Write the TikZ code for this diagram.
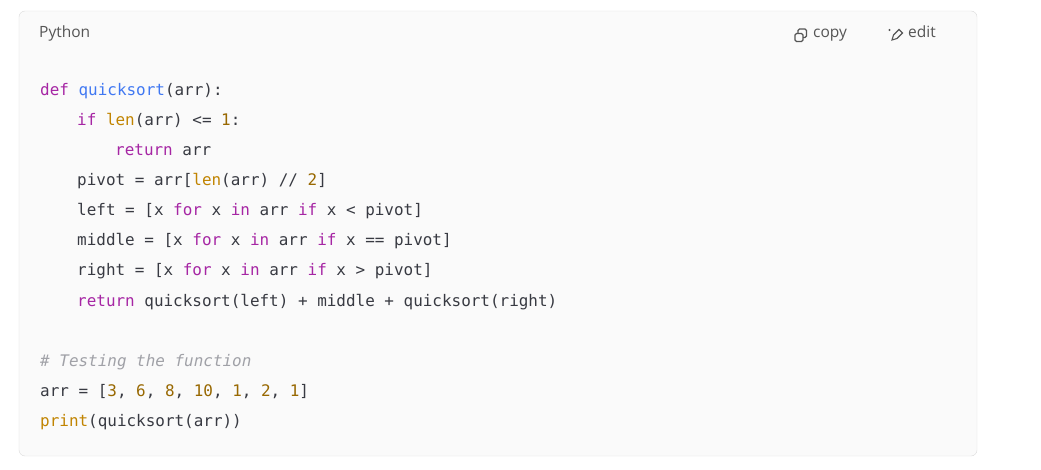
\documentclass[tikz,border=0pt]{standalone}
\usepackage{fontspec}
\setmainfont{Open Sans}
\newfontfamily\codefont{DejaVu Sans Mono}[Ligatures=NoCommon]
\definecolor{kwcol}{HTML}{A626A4}
\definecolor{fncol}{HTML}{4078F2}
\definecolor{bicol}{HTML}{C18401}
\definecolor{numcol}{HTML}{986801}
\definecolor{cmcol}{HTML}{A0A1A7}
\definecolor{txcol}{HTML}{383A42}
\definecolor{uicol}{HTML}{555555}
\newcommand{\kw}[1]{\textcolor{kwcol}{#1}}
\newcommand{\fn}[1]{\textcolor{fncol}{#1}}
\newcommand{\bi}[1]{\textcolor{bicol}{#1}}
\newcommand{\nm}[1]{\textcolor{numcol}{#1}}
\begin{document}
\begin{tikzpicture}[x=1pt, y=-1pt,
    codeline/.style={anchor=base west, inner sep=0pt, text=txcol, font=\codefont\fontsize{15.95}{18}\selectfont},
    uilabel/.style={anchor=base west, inner sep=0pt, text=uicol, font=\fontsize{15.5}{18}\selectfont},
    icon/.style={uicol, line width=1.1pt, rounded corners=1.5pt}
]
\useasboundingbox (0,0) rectangle (1041,470);

% Frame
\draw[draw=black!14, fill=black!2, rounded corners=6pt] (19,11) rectangle (977,456);

% Header
\node[uilabel] (lang) at (39,38) {Python};
\node[uilabel] (copy) at (813,38) {copy};
\node[uilabel] (edit) at (908,38) {edit};
\draw[icon] (795,33.5) rectangle (803,41.5);
\draw[icon] (798,33.5) -- (798,29) -- (806.5,29) -- (806.5,37.5) -- (803,37.5);
\draw[icon, rounded corners=0pt] (892,40) -- (893.5,35) -- (899,29.5) -- (902.5,33) -- (897,38.5) -- cycle;
\fill[uicol] (889.5,30) circle (1.2pt);

% Code
\node[codeline] (l1) at (40,96) {\kw{def} \fn{quicksort}(arr):};
\node[codeline] (l2) at (77,126) {\kw{if} \bi{len}(arr) <= \nm{1}:};
\node[codeline] (l3) at (115,156) {\kw{return} arr};
\node[codeline] (l4) at (77,186) {pivot = arr[\bi{len}(arr) // \nm{2}]};
\node[codeline] (l5) at (77,216) {left = [x \kw{for} x \kw{in} arr \kw{if} x < pivot]};
\node[codeline] (l6) at (77,246) {middle = [x \kw{for} x \kw{in} arr \kw{if} x == pivot]};
\node[codeline] (l7) at (77,276) {right = [x \kw{for} x \kw{in} arr \kw{if} x > pivot]};
\node[codeline] (l8) at (77,306) {\kw{return} quicksort(left) + middle + quicksort(right)};
\node[codeline, text=cmcol] (l9) at (40,366) {\itshape \# Testing the function};
\node[codeline] (l10) at (40,396) {arr = [\nm{3}, \nm{6}, \nm{8}, \nm{10}, \nm{1}, \nm{2}, \nm{1}]};
\node[codeline] (l11) at (40,426) {\bi{print}(quicksort(arr))};
\end{tikzpicture}
\end{document}
